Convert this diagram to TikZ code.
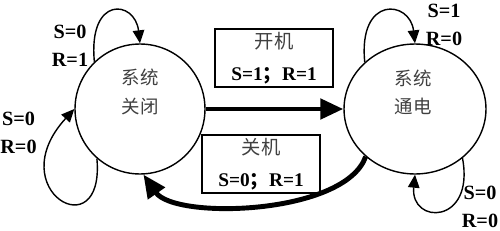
\documentclass[tikz,border=0pt]{standalone}
\usepackage{fontspec}
\setmainfont{Liberation Serif}
\newfontfamily\cjk{Noto Sans CJK SC}
\usetikzlibrary{arrows.meta,shapes.geometric}

\tikzset{
    state/.style={draw, line width=0.8pt, inner sep=0pt},
    cond/.style={font=\bfseries\fontsize{11.5}{16}\selectfont, align=center, inner sep=0pt},
    cntxt/.style={font=\cjk\fontsize{10.5}{16}\selectfont, text=black!75, align=center, inner sep=0pt},
    eventbox/.style={draw, line width=0.8pt, minimum width=2.36cm, minimum height=1.16cm, align=center, inner sep=0pt, font=\fontsize{11}{18}\selectfont},
    bigarrow/.style={line width=2.8pt, -{Triangle[length=4.6mm, width=4mm]}},
    looparrow/.style={line width=0.8pt, -{Triangle[length=2.6mm, width=2.3mm]}},
}

\begin{document}
\begin{tikzpicture}[x=0.02cm, y=-0.02cm]
    \useasboundingbox (0, 0) rectangle (500, 230);

    % states
    \node [state, circle, minimum size=2.6cm] (off) at (140, 109) {};
    \node [state, ellipse, minimum width=2.84cm, minimum height=2.6cm] (on) at (415, 109) {};
    \node [cntxt] (offtxt) at (140, 92) {系统\\关闭};
    \node [cntxt] (ontxt) at (413, 92) {系统\\通电};

    % events
    \node [eventbox] (poweron) at (274, 58) {{\cjk\color{black!75}开机}\\{\bfseries S=1{\cjk ；}R=1}};
    \node [eventbox] (poweroff) at (261, 164) {{\cjk\color{black!75}关机}\\{\bfseries S=0{\cjk ；}R=1}};

    \draw [bigarrow] (off.east) -- (on.west);
    \draw [bigarrow] (on.224) .. controls (345, 215) and (175, 220) .. (off.273);

    % self loops
    \draw [looparrow] (off.134) .. controls (88, -5) and (135, 0) .. (off.90);
    \draw [looparrow] (off.229) .. controls (105, 250) and (0, 190) .. (off.180);
    \draw [looparrow] (on.137) .. controls (358, -5) and (410, 0) .. (on.90);
    \draw [looparrow] (on.314) .. controls (475, 225) and (410, 225) .. (on.270);

    \node [cond] (c1) at (70, 46) {S=0\\R=1};
    \node [cond] (c2) at (18.5, 133) {S=0\\R=0};
    \node [cond] (c3) at (444, 24.5) {S=1\\R=0};
    \node [cond] (c4) at (480, 206.5) {S=0\\R=0};
\end{tikzpicture}
\end{document}
